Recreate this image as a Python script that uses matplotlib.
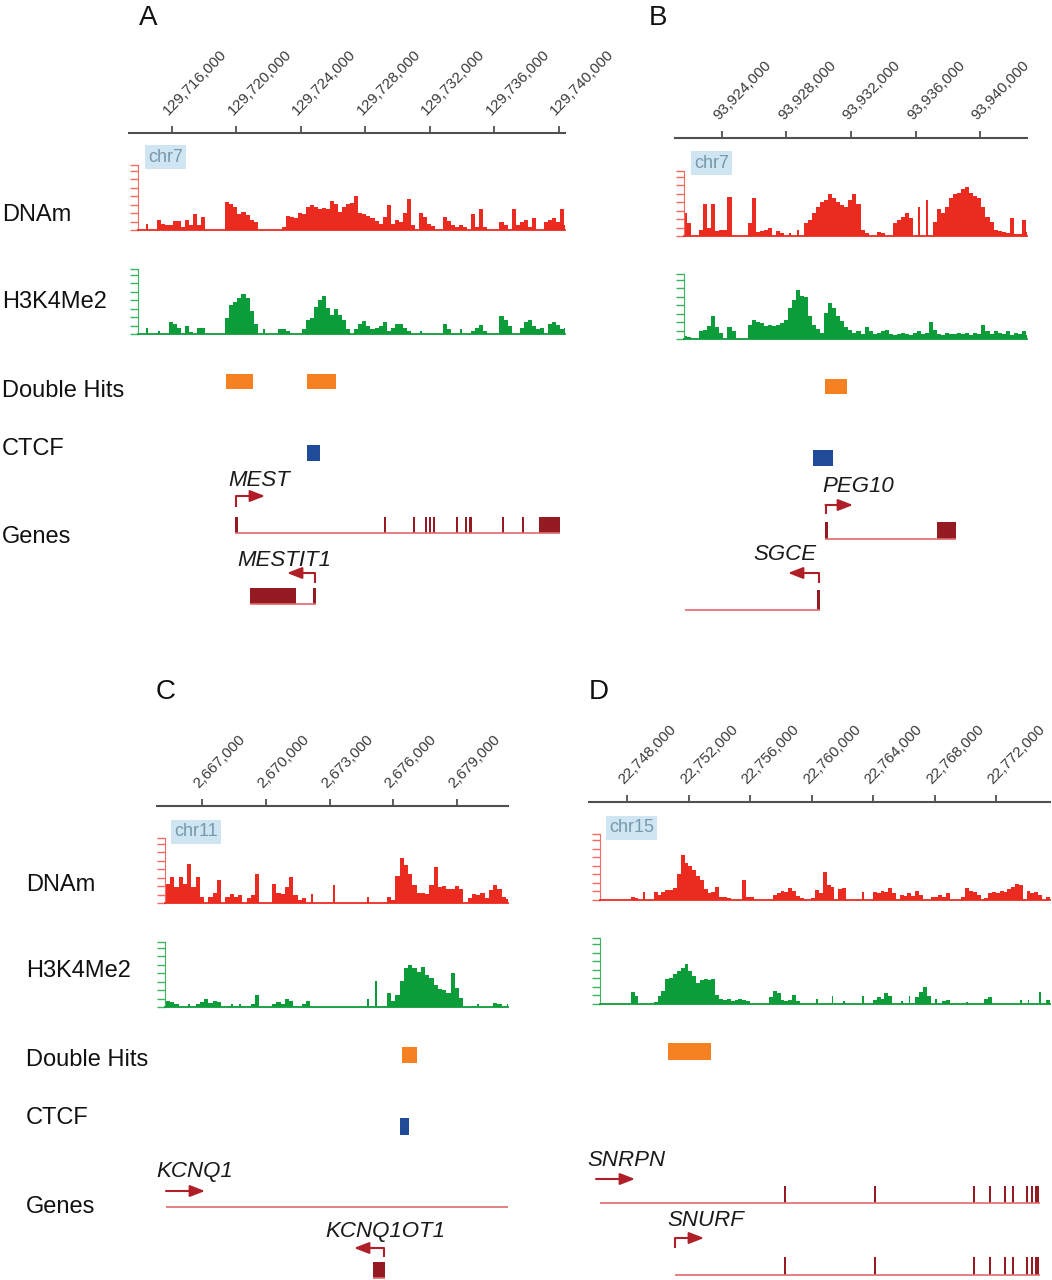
import numpy as np
import matplotlib.pyplot as plt
from matplotlib.patches import Rectangle
from matplotlib.transforms import ScaledTranslation

plt.rcParams['font.family'] = ['Liberation Sans', 'DejaVu Sans']

# ---- signal tracks (percent of track scale, one value per genomic bin) ----
A_bin_start, A_bin = 129713560, 250
A_dnam = [0, 0, 0, 10, 0, 0, 15, 10, 8, 8,
          14, 14, 5, 15, 8, 25, 8, 20, 0, 0,
          0, 0, 0, 43, 40, 35, 25, 28, 23, 16,
          12, 0, 0, 0, 0, 0, 0, 5, 22, 20,
          18, 26, 24, 35, 38, 36, 32, 34, 32, 45,
          40, 28, 36, 40, 42, 52, 26, 24, 22, 18,
          14, 10, 20, 38, 10, 16, 12, 26, 48, 8,
          0, 26, 20, 10, 6, 0, 0, 20, 14, 8,
          5, 7, 4, 0, 25, 5, 32, 4, 0, 0,
          0, 12, 7, 0, 33, 8, 12, 15, 5, 18,
          0, 0, 12, 15, 18, 13, 33, 8]
A_h3k4 = [0, 0, 0, 10, 0, 0, 4, 0, 0, 18,
          15, 10, 0, 12, 3, 0, 10, 10, 0, 0,
          0, 0, 0, 25, 45, 50, 55, 62, 55, 35,
          15, 0, 8, 0, 0, 0, 8, 7, 5, 0,
          0, 0, 8, 22, 25, 42, 52, 58, 40, 30,
          38, 30, 22, 8, 0, 8, 15, 20, 12, 8,
          10, 12, 18, 5, 10, 16, 15, 10, 5, 0,
          0, 4, 0, 0, 0, 0, 0, 15, 8, 0,
          0, 7, 0, 0, 5, 10, 14, 5, 0, 0,
          0, 28, 22, 12, 0, 0, 10, 18, 22, 12,
          8, 10, 0, 15, 18, 14, 8, 10]

B_bin_start, B_bin = 93921090, 250
B_dnam = [0, 0, 35, 20, 0, 0, 10, 50, 12, 50,
          8, 10, 10, 60, 0, 0, 0, 0, 20, 58,
          6, 8, 10, 12, 0, 8, 5, 0, 5, 0,
          10, 0, 20, 25, 35, 45, 52, 55, 64, 58,
          52, 48, 45, 55, 64, 50, 10, 5, 0, 0,
          6, 4, 0, 0, 20, 25, 30, 35, 28, 0,
          45, 0, 55, 0, 22, 42, 35, 45, 58, 65,
          66, 72, 76, 66, 62, 58, 45, 30, 22, 10,
          8, 6, 5, 28, 3, 3, 24, 6]
B_h3k4 = [0, 0, 5, 3, 0, 0, 12, 14, 20, 35,
          18, 10, 0, 18, 12, 0, 0, 0, 22, 30,
          26, 24, 20, 22, 20, 22, 25, 30, 48, 60,
          75, 66, 65, 35, 22, 15, 10, 40, 55, 48,
          35, 28, 18, 14, 10, 12, 8, 18, 12, 8,
          10, 12, 14, 8, 6, 8, 10, 8, 6, 10,
          12, 8, 10, 26, 14, 8, 6, 10, 8, 8,
          10, 8, 10, 6, 10, 8, 22, 12, 8, 12,
          10, 8, 12, 6, 10, 8, 12, 6]

C_bin_start, C_bin = 2664896, 200
C_dnam = [10, 5, 30, 40, 25, 40, 30, 60, 25, 40,
          10, 0, 10, 15, 35, 0, 10, 14, 10, 12,
          0, 8, 12, 45, 0, 0, 0, 30, 15, 14,
          25, 40, 12, 5, 8, 0, 14, 0, 0, 0,
          0, 28, 0, 0, 0, 0, 0, 0, 0, 10,
          0, 0, 0, 0, 10, 5, 42, 70, 58, 45,
          28, 16, 16, 14, 28, 55, 24, 26, 22, 22,
          26, 22, 0, 8, 14, 12, 16, 8, 20, 28,
          22, 10, 6]
C_h3k4 = [8, 6, 10, 8, 5, 0, 0, 5, 0, 5,
          8, 12, 6, 10, 8, 0, 0, 5, 0, 4,
          0, 0, 5, 18, 0, 0, 0, 5, 8, 5,
          12, 10, 0, 0, 5, 10, 0, 0, 0, 0,
          0, 0, 0, 0, 0, 0, 0, 0, 0, 12,
          0, 40, 0, 0, 22, 10, 18, 40, 60, 64,
          60, 54, 62, 50, 44, 34, 28, 26, 22, 52,
          30, 14, 0, 0, 0, 4, 0, 0, 0, 6,
          4, 0, 4]

D_bin_start, D_bin = 22745743, 250
D_dnam = [0, 0, 0, 0, 0, 0, 0, 0, 0, 0,
          4, 3, 0, 12, 0, 0, 12, 8, 12, 15,
          15, 18, 40, 68, 56, 52, 45, 36, 30, 16,
          10, 12, 20, 5, 4, 3, 0, 0, 0, 30,
          5, 4, 0, 0, 0, 0, 0, 8, 10, 14,
          12, 18, 14, 6, 3, 0, 0, 3, 15, 10,
          42, 22, 20, 0, 16, 18, 0, 0, 0, 0,
          12, 0, 0, 12, 10, 14, 12, 18, 10, 0,
          8, 6, 10, 6, 14, 8, 0, 0, 5, 4,
          8, 5, 10, 0, 0, 0, 4, 18, 14, 12,
          8, 0, 3, 10, 12, 10, 14, 12, 16, 20,
          24, 22, 0, 14, 10, 12, 8, 0, 4, 14]
D_h3k4 = [0, 0, 0, 0, 0, 0, 0, 0, 0, 0,
          18, 12, 0, 0, 0, 0, 3, 12, 20, 38,
          40, 45, 50, 55, 60, 50, 42, 32, 36, 38,
          36, 38, 14, 8, 6, 8, 4, 6, 8, 6,
          4, 0, 0, 0, 0, 0, 10, 20, 16, 6,
          4, 6, 14, 4, 0, 0, 0, 0, 8, 0,
          0, 0, 12, 0, 0, 5, 0, 0, 0, 0,
          12, 0, 0, 6, 10, 8, 16, 12, 0, 0,
          5, 0, 12, 0, 10, 18, 26, 12, 0, 8,
          0, 5, 6, 0, 0, 0, 0, 3, 0, 0,
          0, 0, 8, 10, 0, 0, 0, 0, 0, 0,
          0, 6, 0, 6, 0, 0, 18, 0, 6, 14]

# ---- features (genomic coordinates) ----
A_double_hits = [(129719349, 129721024), (129724373, 129726171)]
A_ctcf = [(129724373, 129725179)]
MEST_exons = [(129719907, 129720093), (129729120, 129729300), (129730940, 129731040),
              (129731710, 129731800), (129731955, 129732045), (129732205, 129732295),
              (129733635, 129733725), (129734190, 129734280), (129734440, 129734630),
              (129736490, 129736580), (129737725, 129737815), (129738761, 129740064)]
MEST_tss, MEST_arrow_to, MEST_label_x = 129719970, 129721768, 129719473
MESTIT1_exons = [(129720838, 129723690), (129724745, 129724931)]
MESTIT1_tss, MESTIT1_arrow_to, MESTIT1_label_x = 129724870, 129723132, 129720031

B_double_hits = [(93930388, 93931753)]
B_ctcf = [(93929644, 93930884)]
PEG10_exons = [(93930388, 93930560), (93937334, 93938513)]
PEG10_tss, PEG10_arrow_to, PEG10_label_x = 93930420, 93932125, 93930202
SGCE_exons = [(93929900, 93930080)]
SGCE_line = (93921705, 93930080)
SGCE_tss, SGCE_arrow_to, SGCE_label_x = 93930016, 93928093, 93925923

C_double_hits = [(2676412, 2677118)]
C_ctcf = [(2676318, 2676741)]
KCNQ1_line = (2665306, 2681600)
KCNQ1_arrow = (2665306, 2667141)
KCNQ1_label_x = 2664835
KCNQ1OT1_exons = [(2675047, 2675612)]
KCNQ1OT1_tss, KCNQ1OT1_arrow_to, KCNQ1OT1_label_x = 2675565, 2674153, 2672788

D_double_hits = [(22750667, 22753464)]
SNRPN_exons = [(22758210, 22758340), (22764065, 22764195), (22770505, 22770635),
               (22771545, 22771675), (22772545, 22772625), (22773040, 22773170),
               (22773950, 22774080), (22774300, 22774420), (22774520, 22774800)]
SNRPN_line = (22746244, 22774862)
SNRPN_arrow = (22745984, 22748520)
SNRPN_label_x = 22745398
SNURF_exons = [(22751090, 22751150)] + SNRPN_exons
SNURF_line = (22751122, 22774862)
SNURF_tss, SNURF_arrow_to, SNURF_label_x = 22751122, 22753008, 22750602

# ---- style ----
DNAM, DNAM_T = '#ec2b20', '#f26a60'
H3K4, H3K4_T = '#0d9c3a', '#3db35f'
DH_C, CTCF_C = '#f58123', '#1f4b99'
EXON, INTRON, ARROW = '#951b22', '#e06a6e', '#b01f27'

W, H = 1052, 1280
fig = plt.figure(figsize=(W / 100, H / 100), dpi=100)


def px_axes(x0, x1, y0, y1):
    return fig.add_axes([x0 / W, 1 - y1 / H, (x1 - x0) / W, (y1 - y0) / H])


def to_bp(view, px):
    (p0, p1), (b0, b1) = view
    return b0 + (px - p0) * (b1 - b0) / (p1 - p0)


def ruler(view, y, ticks):
    (p0, p1), (b0, b1) = view
    ax = px_axes(p0, p1, y, y + 1)
    ax.set_xlim(b0, b1)
    ax.set_ylim(0, 1)
    for s in ['bottom', 'left', 'right']:
        ax.spines[s].set_visible(False)
    ax.spines['top'].set_color('#505050')
    ax.spines['top'].set_linewidth(1.5)
    ax.set_yticks([])
    ax.xaxis.set_ticks_position('top')
    ax.set_xticks(ticks)
    ax.set_xticklabels([f'{t:,}' for t in ticks])
    ax.tick_params(axis='x', direction='out', length=5, width=1.3, color='#505050',
                   labelsize=11, labelcolor='#3a3a3a', pad=6)
    off = ScaledTranslation(-1 / 100, 0, fig.dpi_scale_trans)
    for lab in ax.get_xticklabels():
        lab.set_rotation(46)
        lab.set_ha('left')
        lab.set_va('bottom')
        lab.set_rotation_mode('anchor')
        lab.set_transform(lab.get_transform() + off)


def signal(view, left_px, y0, y1, start, binw, vals, color, tcolor):
    (p0, p1), _ = view
    ax = px_axes(left_px, p1, y0, y1)
    ax.set_xlim(to_bp(view, left_px), to_bp(view, p1))
    ax.set_ylim(0, 100)
    v = np.array(vals, dtype=float)
    xs = start + binw * np.arange(len(v))
    # lone bins are drawn as thin spikes, runs of bins as solid blocks
    prev = np.r_[0, v[:-1]]
    nxt = np.r_[v[1:], 0]
    lone = (v > 0) & (prev == 0) & (nxt == 0)
    widths = np.where(lone, 0.45 * binw, binw)
    lefts = np.where(lone, xs + 0.275 * binw, xs)
    ax.bar(lefts, v, width=widths, align='edge', color=color, linewidth=0)
    ax.spines['top'].set_visible(False)
    ax.spines['right'].set_visible(False)
    ax.spines['left'].set_color(tcolor)
    ax.spines['bottom'].set_color(color)
    ax.spines['bottom'].set_linewidth(1.3)
    ax.set_xticks([])
    ax.set_yticks([0, 13, 26, 39, 52, 65, 78, 91, 100])
    ax.tick_params(axis='y', direction='out', length=6, width=1, color=tcolor, labelleft=False)


def feature_axes(view, y0, y1):
    (p0, p1), (b0, b1) = view
    ax = px_axes(p0, p1, y0, y1)
    ax.set_xlim(b0, b1)
    ax.set_ylim(y1, y0)
    ax.axis('off')
    return ax


def blocks(ax, spans, y0, y1, color):
    for s, e in spans:
        ax.add_patch(Rectangle((s, y0), e - s, y1 - y0, color=color, lw=0))


def gene(ax, exons, line, y0, y1):
    ax.plot(line, [y1 - 0.5, y1 - 0.5], color=INTRON, lw=1.2, solid_capstyle='butt')
    blocks(ax, exons, y0, y1, EXON)


def tss_arrow(ax, tss, to, y_base, y_arr):
    if y_base is not None:
        ax.plot([tss, tss], [y_base, y_arr], color=ARROW, lw=1.5, solid_capstyle='butt')
    ax.annotate('', xy=(to, y_arr), xytext=(tss, y_arr),
                arrowprops=dict(arrowstyle='-|>,head_length=0.9,head_width=0.35',
                                color=ARROW, lw=1.5, shrinkA=0, shrinkB=0))


def label(ax, x, y, s):
    ax.text(x, y, s, fontsize=16, style='italic', ha='left', va='center',
            color='#1a1a1a', clip_on=False)


def ftext(x, y, s, **kw):
    fig.text(x / W, 1 - y / H, s, ha='left', va='center', **kw)


def chr_box(x, y, s):
    ftext(x, y, s, fontsize=13, color='#7898ae',
          bbox=dict(boxstyle='square,pad=0.18', fc='#cfe6f2', ec='none'))


# ---------------- panel A ----------------
A_view = ((129, 565), (129713333, 129740374))
ruler(A_view, 133, list(range(129716000, 129740001, 4000)))
signal(A_view, 138, 165, 230, A_bin_start, A_bin, A_dnam, DNAM, DNAM_T)
signal(A_view, 138, 269, 334, A_bin_start, A_bin, A_h3k4, H3K4, H3K4_T)
axA = feature_axes(A_view, 355, 620)
blocks(axA, A_double_hits, 374, 389, DH_C)
blocks(axA, A_ctcf, 445, 461, CTCF_C)
gene(axA, MEST_exons, (MEST_exons[0][0], MEST_exons[-1][1]), 517, 533)
tss_arrow(axA, MEST_tss, MEST_arrow_to, 507, 496)
label(axA, MEST_label_x, 481, 'MEST')
gene(axA, MESTIT1_exons, (MESTIT1_exons[0][0], MESTIT1_exons[-1][1]), 588, 604)
tss_arrow(axA, MESTIT1_tss, MESTIT1_arrow_to, 583, 573)
label(axA, MESTIT1_label_x, 561, 'MESTIT1')
chr_box(148, 157, 'chr7')

# ---------------- panel B ----------------
B_view = ((675, 1027), (93921086, 93942914))
ruler(B_view, 138, list(range(93924000, 93940001, 4000)))
signal(B_view, 684, 171, 236, B_bin_start, B_bin, B_dnam, DNAM, DNAM_T)
signal(B_view, 684, 274, 339, B_bin_start, B_bin, B_h3k4, H3K4, H3K4_T)
axB = feature_axes(B_view, 355, 620)
blocks(axB, B_double_hits, 379, 394, DH_C)
blocks(axB, B_ctcf, 450, 466, CTCF_C)
gene(axB, PEG10_exons, (PEG10_exons[0][0], PEG10_exons[-1][1]), 522, 539)
tss_arrow(axB, PEG10_tss, PEG10_arrow_to, 514, 505)
label(axB, PEG10_label_x, 486, 'PEG10')
gene(axB, SGCE_exons, SGCE_line, 590, 610)
tss_arrow(axB, SGCE_tss, SGCE_arrow_to, 583, 573)
label(axB, SGCE_label_x, 554, 'SGCE')
chr_box(694, 163, 'chr7')

# ---------------- panel C ----------------
C_view = ((157, 508), (2664882, 2681400))
ruler(C_view, 806, list(range(2667000, 2679001, 3000)))
signal(C_view, 165, 838, 903, C_bin_start, C_bin, C_dnam, DNAM, DNAM_T)
signal(C_view, 165, 942, 1007, C_bin_start, C_bin, C_h3k4, H3K4, H3K4_T)
axC = feature_axes(C_view, 1030, 1280)
blocks(axC, C_double_hits, 1047, 1063, DH_C)
blocks(axC, C_ctcf, 1118, 1135, CTCF_C)
gene(axC, [], KCNQ1_line, 1200, 1207)
tss_arrow(axC, KCNQ1_arrow[0], KCNQ1_arrow[1], None, 1191)
label(axC, KCNQ1_label_x, 1172, 'KCNQ1')
gene(axC, KCNQ1OT1_exons, (KCNQ1OT1_exons[0][0], KCNQ1OT1_exons[-1][1]), 1262, 1278)
tss_arrow(axC, KCNQ1OT1_tss, KCNQ1OT1_arrow_to, 1257, 1248)
label(axC, KCNQ1OT1_label_x, 1231, 'KCNQ1OT1')
chr_box(174, 832, 'chr11')

# ---------------- panel D ----------------
D_view = ((589, 1050), (22745528, 22775512))
ruler(D_view, 802, list(range(22748000, 22772001, 4000)))
signal(D_view, 600, 834, 900, D_bin_start, D_bin, D_dnam, DNAM, DNAM_T)
signal(D_view, 600, 938, 1004, D_bin_start, D_bin, D_h3k4, H3K4, H3K4_T)
axD = feature_axes(D_view, 1030, 1280)
blocks(axD, D_double_hits, 1043, 1060, DH_C)
gene(axD, SNRPN_exons, SNRPN_line, 1186, 1203)
tss_arrow(axD, SNRPN_arrow[0], SNRPN_arrow[1], None, 1179)
label(axD, SNRPN_label_x, 1161, 'SNRPN')
gene(axD, SNURF_exons, SNURF_line, 1257, 1275)
tss_arrow(axD, SNURF_tss, SNURF_arrow_to, 1248, 1238)
label(axD, SNURF_label_x, 1221, 'SNURF')
chr_box(609, 828, 'chr15')

# ---------------- row labels and panel letters ----------------
for lx, ys in [(2, (215, 302, 391, 449, 537)), (26, (885, 971, 1060, 1118, 1207))]:
    for yy, name in zip(ys, ['DNAm', 'H3K4Me2', 'Double Hits', 'CTCF', 'Genes']):
        ftext(lx, yy, name, fontsize=17, color='#111111')

for lx, yy, letter in [(139, 18, 'A'), (649, 18, 'B'), (156, 692, 'C'), (589, 692, 'D')]:
    ftext(lx, yy, letter, fontsize=20, color='#111111')

fig.savefig('out.png', dpi=100)
